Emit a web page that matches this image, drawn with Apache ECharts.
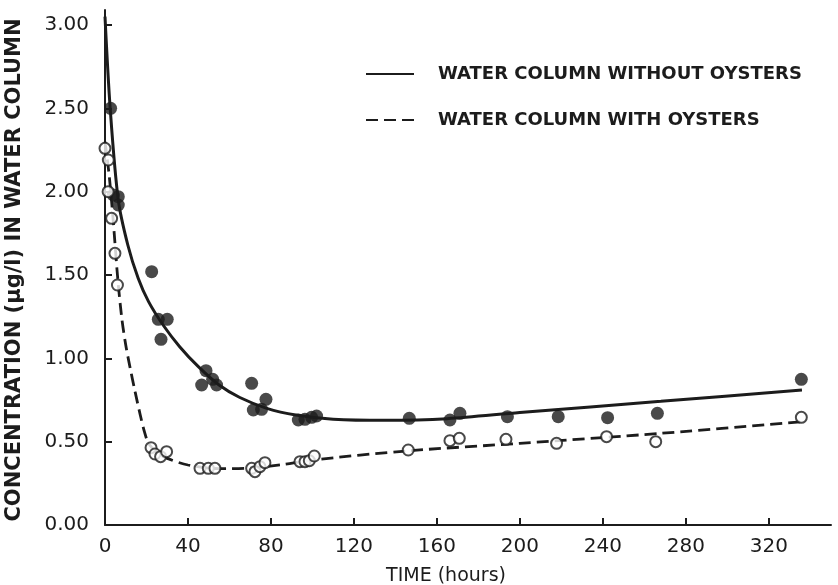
<!DOCTYPE html>
<html>
<head>
<meta charset="utf-8">
<script src="https://cdn.jsdelivr.net/npm/echarts@6/dist/echarts.min.js"></script>
<style>
  html, body { margin: 0; padding: 0; background: #ffffff; }
  #chart { width: 838px; height: 585px; }
</style>
</head>
<body>
<div id="chart"></div>
<script>
// Tick positions
const xTicks = [0, 40, 80, 120, 160, 200, 240, 280, 320];
const yTicks = [0, 0.5, 1.0, 1.5, 2.0, 2.5, 3.0];

// Measured concentrations, [hours, µg/l]
const withoutOystersPoints = [
  [2.7, 2.50], [4.0, 1.98], [6.4, 1.97], [6.4, 1.92], [22.5, 1.52],
  [25.7, 1.234], [30.0, 1.234], [27.0, 1.114],
  [48.7, 0.926], [46.6, 0.84], [51.9, 0.874], [53.8, 0.84],
  [70.7, 0.85], [71.5, 0.69], [75.5, 0.694], [77.6, 0.754],
  [93.2, 0.63], [96.4, 0.634], [99.6, 0.646], [102.0, 0.654],
  [146.7, 0.64], [166.3, 0.63], [171.1, 0.67], [194.0, 0.65],
  [218.5, 0.65], [242.3, 0.644], [266.3, 0.67], [335.7, 0.874]
];
const withOystersPoints = [
  [0.0, 2.26], [1.6, 2.19], [1.5, 2.00], [3.2, 1.84], [4.8, 1.63], [6.0, 1.44],
  [22.2, 0.464], [24.1, 0.426], [26.8, 0.41], [29.7, 0.44],
  [45.8, 0.34], [49.8, 0.34], [53.0, 0.34],
  [70.7, 0.34], [72.3, 0.32], [74.7, 0.35], [77.1, 0.374],
  [94.0, 0.38], [96.4, 0.38], [98.5, 0.386], [100.9, 0.414],
  [146.2, 0.45], [166.3, 0.506], [170.8, 0.52], [193.3, 0.514],
  [217.7, 0.49], [241.8, 0.53], [265.5, 0.50], [335.7, 0.646]
];

// Fitted curves
const withoutOystersCurve = [
  [0, 3.05], [2.5, 2.5], [6.4, 1.95], [11, 1.68], [16, 1.48], [21, 1.34],
  [28, 1.20], [36, 1.07], [45, 0.95], [55, 0.84], [65, 0.765], [78, 0.70],
  [92, 0.66], [110, 0.635], [135, 0.628], [165, 0.638], [200, 0.675],
  [268, 0.742], [336, 0.81]
];
const withOystersCurve = [
  [0, 2.3], [2, 2.1], [4, 1.82], [6, 1.5], [8, 1.25], [10, 1.08],
  [12, 0.95], [14.5, 0.8], [17, 0.66], [19, 0.56], [21, 0.49], [25, 0.435],
  [30, 0.40], [40, 0.36], [55, 0.338], [70, 0.342], [85, 0.362], [100, 0.39],
  [146, 0.445], [200, 0.49], [268, 0.55], [336, 0.62]
];

const seriesNames = ['WATER COLUMN WITHOUT OYSTERS', 'WATER COLUMN WITH OYSTERS'];
const xTitle = 'TIME (hours)';
const yTitle = 'CONCENTRATION (\u00b5g/l) IN WATER COLUMN';

const ink = '#1c1c1c';
const font = 'DejaVu Sans';

const chart = echarts.init(document.getElementById('chart'), null, { renderer: 'canvas' });

chart.setOption({
  backgroundColor: '#ffffff',
  animation: false,
  grid: { left: 105, right: 7, top: 10, bottom: 60 },
  xAxis: {
    type: 'value', min: 0, max: 350,
    axisLine: { lineStyle: { color: ink, width: 2 } },
    axisTick: { inside: true, length: 7, customValues: xTicks, lineStyle: { color: ink, width: 2 } },
    axisLabel: { customValues: xTicks, color: ink, fontFamily: font, fontSize: 20, margin: 12 },
    splitLine: { show: false }
  },
  yAxis: {
    type: 'value', min: 0, max: 3.09,
    axisLine: { show: true, lineStyle: { color: ink, width: 2 } },
    axisTick: { show: true, inside: true, length: 7, customValues: yTicks, lineStyle: { color: ink, width: 2 } },
    axisLabel: {
      customValues: yTicks, color: ink, fontFamily: font, fontSize: 20, margin: 16,
      formatter: v => v.toFixed(2)
    },
    splitLine: { show: false }
  },
  legend: {
    data: seriesNames,
    orient: 'vertical',
    left: 360, top: 60,
    itemWidth: 48, itemHeight: 14,
    itemGap: 28,
    itemStyle: { opacity: 0 },
    textStyle: { color: ink, fontFamily: font, fontSize: 18, fontWeight: 'bold', padding: [0, 0, 0, 19] }
  },
  graphic: [
    {
      type: 'text', x: 446, y: 576,
      style: { text: xTitle, fill: ink, font: '19px "DejaVu Sans"', align: 'center', verticalAlign: 'middle' }
    },
    {
      type: 'text', x: 15, y: 270, rotation: Math.PI / 2,
      style: { text: yTitle, fill: ink, font: 'bold 21px "DejaVu Sans"', align: 'center', verticalAlign: 'middle' }
    }
  ],
  series: [
    {
      name: seriesNames[0], type: 'line', data: withoutOystersCurve,
      smooth: 0.3, showSymbol: false, symbol: 'none',
      lineStyle: { color: ink, width: 3 }, itemStyle: { color: ink }, z: 2
    },
    {
      name: seriesNames[1], type: 'line', data: withOystersCurve,
      smooth: 0.3, showSymbol: false, symbol: 'none',
      lineStyle: { color: ink, width: 2.8, type: [12, 6] }, itemStyle: { color: ink }, z: 2
    },
    {
      type: 'scatter', data: withoutOystersPoints, symbol: 'circle', symbolSize: 13,
      itemStyle: { color: ink }, z: 3
    },
    {
      type: 'scatter', data: withOystersPoints, symbol: 'circle', symbolSize: 11,
      itemStyle: { color: '#ffffff', borderColor: ink, borderWidth: 2 }, z: 4
    }
  ]
});
</script>
</body>
</html>
